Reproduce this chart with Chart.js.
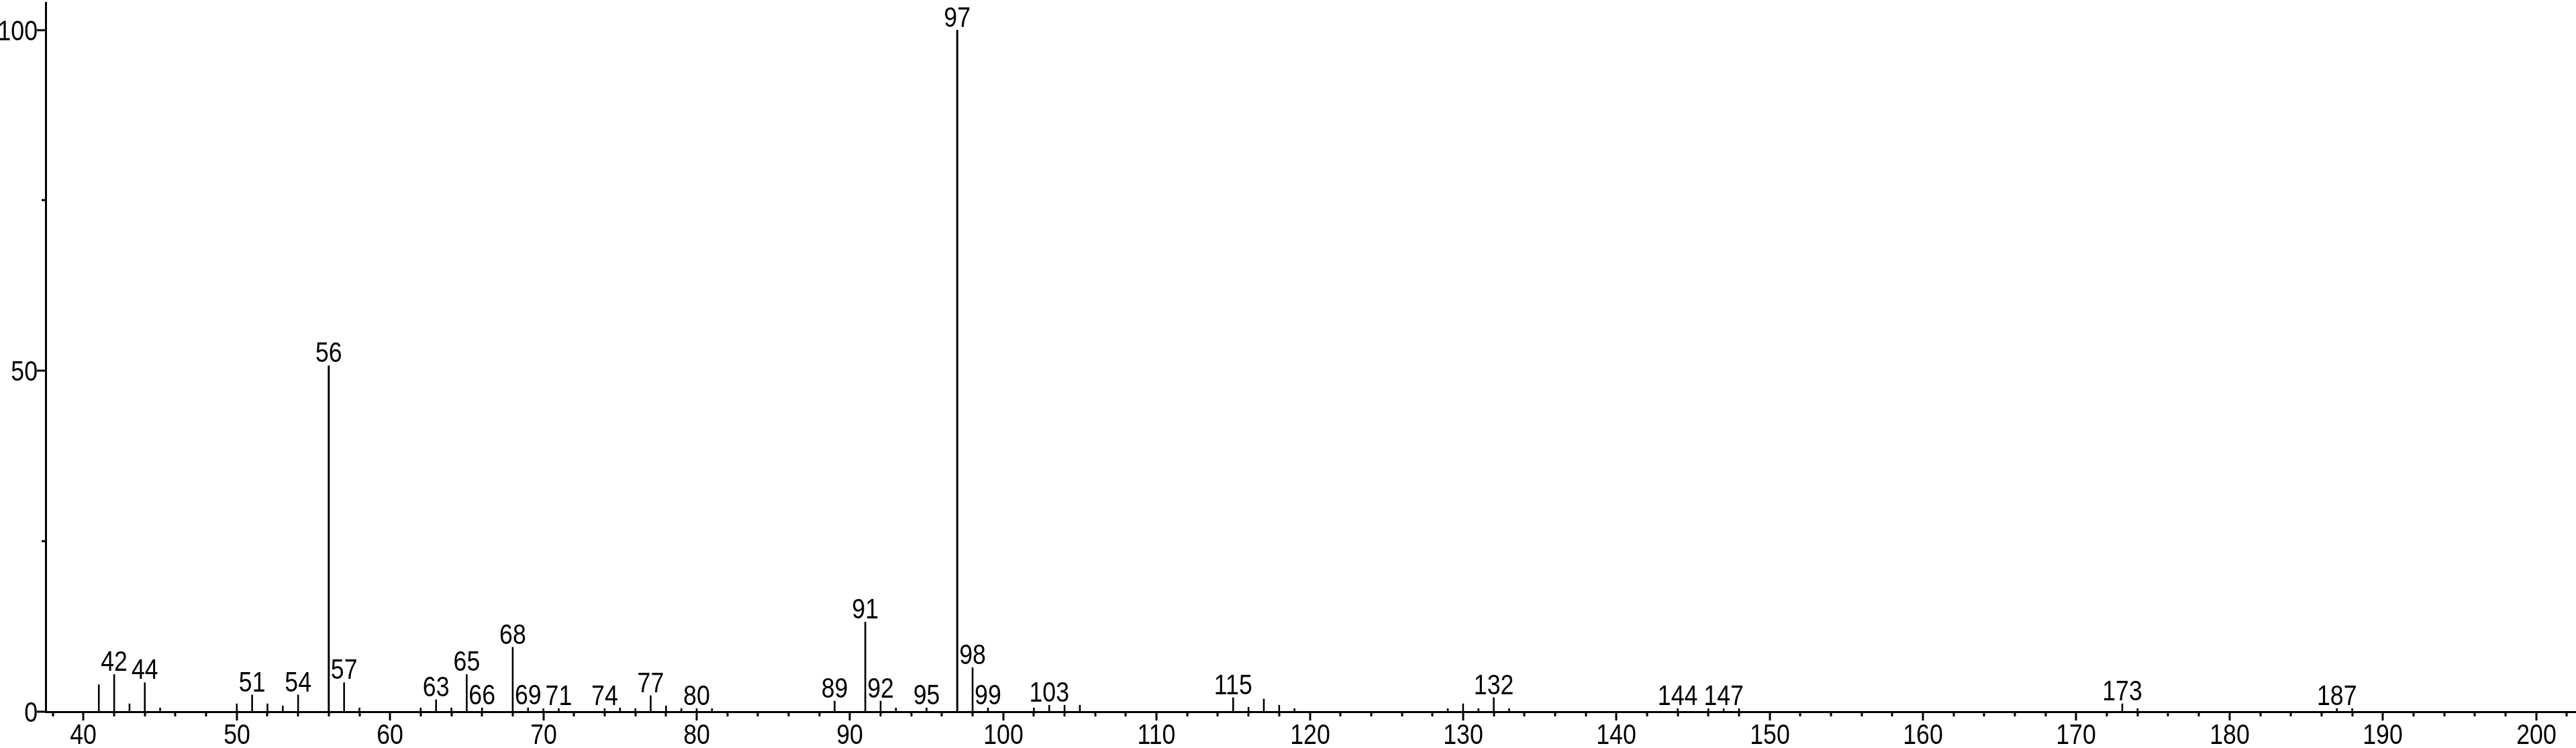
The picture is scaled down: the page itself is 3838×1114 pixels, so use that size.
<!DOCTYPE html>
<html>
<head>
<meta charset="utf-8">
<script src="https://cdn.jsdelivr.net/npm/chart.js@4/dist/chart.umd.min.js"></script>
<style>
  html, body { margin: 0; padding: 0; background: #fff; }
  canvas { display: block; }
</style>
</head>
<body>
<canvas id="spec" width="3838" height="1114"></canvas>
<script>
// m/z and relative intensity (%)
const mz = [41, 42, 43, 44, 45, 50, 51, 52, 53, 54, 56, 57, 58, 62, 63, 64, 65, 66, 68, 69,
  70, 71, 74, 75, 76, 77, 78, 79, 80, 81, 89, 91, 92, 93, 95, 97, 98, 99, 102, 103,
  104, 105, 115, 116, 117, 118, 119, 129, 130, 131, 132, 133, 144, 146, 147, 148, 173, 174, 187, 188];
const intensity = [4.0, 5.5, 1.2, 4.3, 0.6, 1.2, 2.5, 1.2, 0.9, 2.5, 50.8, 4.3, 0.6, 0.6, 1.8, 0.6, 5.5, 0.6, 9.5, 0.6,
  0.5, 0.5, 0.5, 0.6, 0.5, 2.4, 0.9, 0.5, 0.5, 0.5, 1.6, 13.2, 1.6, 0.6, 0.6, 100, 6.5, 0.6, 0.6, 1.0,
  1.0, 1.0, 2.1, 0.7, 1.9, 1.0, 0.5, 0.5, 1.2, 0.5, 2.1, 0.5, 0.5, 0.5, 0.5, 0.5, 1.2, 0.5, 0.5, 0.5];
// peaks that carry an m/z label
const labeled = [42, 44, 51, 54, 56, 57, 63, 65, 66, 68, 69, 71, 74, 77, 80, 89, 91, 92, 95, 97,
  98, 99, 103, 115, 132, 144, 147, 173, 187];
const xMajor = 10, xMinor = 2;
const yMajor = 50, yMinor = 25;

const FONT = "'Liberation Sans', Arial, sans-serif";
const FSIZE = 42;
const NARROW = 0.85; // no condensed face installed, so squeeze the regular one

function narrowText(ctx, text, x, y) {
  ctx.save();
  ctx.translate(x, y);
  ctx.scale(NARROW, 1);
  ctx.fillText(text, 0, 0);
  ctx.restore();
}

const pts = mz.map((m, i) => ({ x: m, y: intensity[i] }));
const strong = pts.filter(p => p.y >= 40);
const weak = pts.filter(p => p.y < 40);

// tick marks + tick labels: long ticks for majors, short for minors
const axisDecor = {
  id: 'axisDecor',
  afterDraw(chart) {
    const ctx = chart.ctx;
    const { x, y } = chart.scales;
    const area = chart.chartArea;
    ctx.save();
    ctx.strokeStyle = '#000';
    ctx.fillStyle = '#000';
    ctx.lineWidth = 3;
    ctx.font = FSIZE + 'px ' + FONT;
    ctx.textBaseline = 'alphabetic';
    ctx.beginPath();
    x.ticks.forEach(t => {
      if (t.value < x.min || t.value > x.max) return;
      const px = Math.round(x.getPixelForValue(t.value));
      const major = t.value % xMajor === 0;
      ctx.moveTo(px, area.bottom);
      ctx.lineTo(px, area.bottom + (major ? 13 : 7));
      if (major) {
        ctx.textAlign = 'center';
        narrowText(ctx, String(t.value), px, area.bottom + 48);
      }
    });
    y.ticks.forEach(t => {
      if (t.value % yMinor !== 0) return;
      const py = Math.round(y.getPixelForValue(t.value));
      const major = t.value % yMajor === 0;
      ctx.moveTo(area.left, py);
      ctx.lineTo(area.left - (major ? 13 : 6), py);
      if (major) {
        ctx.textAlign = 'right';
        narrowText(ctx, String(t.value), area.left - 12, py + 15);
      }
    });
    ctx.stroke();
    ctx.restore();
  }
};

// m/z numbers above the labelled peaks
const peakLabels = {
  id: 'peakLabels',
  afterDatasetsDraw(chart) {
    const ctx = chart.ctx;
    ctx.save();
    ctx.fillStyle = '#000';
    ctx.font = FSIZE + 'px ' + FONT;
    ctx.textAlign = 'center';
    ctx.textBaseline = 'alphabetic';
    chart.data.datasets.forEach((ds, di) => {
      const meta = chart.getDatasetMeta(di);
      meta.data.forEach((el, i) => {
        const m = ds.data[i].x;
        if (!labeled.includes(m)) return;
        narrowText(ctx, String(m), el.x, el.y - 5);
      });
    });
    ctx.restore();
  }
};

new Chart(document.getElementById('spec'), {
  type: 'bar',
  data: {
    datasets: [
      { data: weak, backgroundColor: '#000', borderWidth: 0, grouped: false, maxBarThickness: 2.6 },
      { data: strong, backgroundColor: '#000', borderWidth: 0, grouped: false, maxBarThickness: 3 }
    ]
  },
  options: {
    responsive: false,
    animation: false,
    devicePixelRatio: 1,
    layout: { padding: { top: 4, right: 0, bottom: 0, left: 0 } },
    plugins: { legend: { display: false }, tooltip: { enabled: false } },
    scales: {
      x: {
        type: 'linear',
        offset: false,
        min: 37.53,
        max: 202.6,
        afterFit: s => { s.height = 54; },
        grid: { display: true, drawOnChartArea: false, drawTicks: false },
        border: { display: true, color: '#000', width: 3 },
        ticks: { display: false, stepSize: xMinor, includeBounds: false, autoSkip: false }
      },
      y: {
        min: 0,
        max: 104,
        afterFit: s => { s.width = 68; },
        grid: { display: true, drawOnChartArea: false, drawTicks: false },
        border: { display: true, color: '#000', width: 3 },
        ticks: { display: false, stepSize: yMinor, includeBounds: false, autoSkip: false }
      }
    }
  },
  plugins: [axisDecor, peakLabels]
});
</script>
</body>
</html>
